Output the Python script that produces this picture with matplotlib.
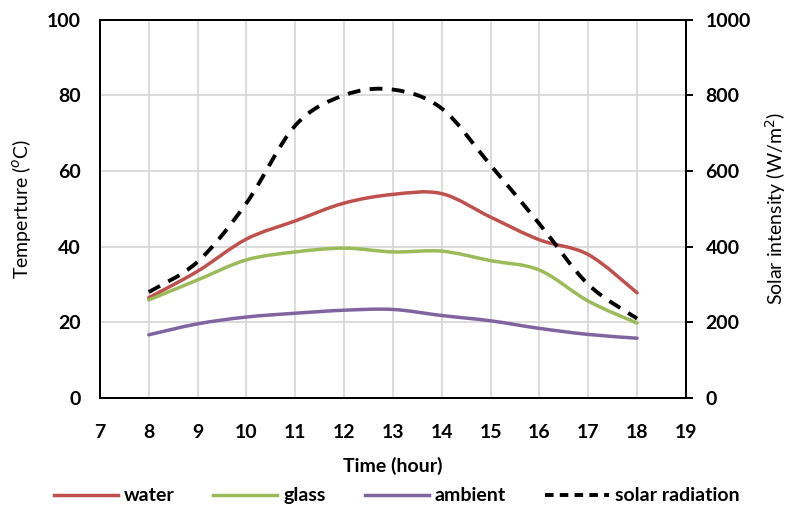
import numpy as np
import matplotlib.pyplot as plt
from matplotlib.path import Path
from matplotlib.patches import PathPatch
from matplotlib.lines import Line2D

hours = [8, 9, 10, 11, 12, 13, 14, 15, 16, 17, 18]
water = [26.5, 33.5, 42.0, 46.8, 51.5, 53.8, 54.0, 47.8, 41.8, 37.9, 27.8]
glass = [25.9, 31.2, 36.5, 38.6, 39.6, 38.6, 38.8, 36.3, 33.8, 25.6, 19.8]
ambient = [16.7, 19.6, 21.4, 22.4, 23.2, 23.4, 21.8, 20.4, 18.4, 16.8, 15.8]
solar = [280, 360, 515, 720, 800, 815, 765, 615, 460, 300, 210]

plt.rcParams['font.family'] = ['Lato', 'DejaVu Sans']
FS = 14


def smooth_path(x, y, tension=1 / 6):
    # Excel-style smoothed line: cubic Bezier through every point
    x = np.asarray(x, float)
    y = np.asarray(y, float)
    n = len(x)
    verts = [(x[0], y[0])]
    codes = [Path.MOVETO]
    for i in range(n - 1):
        x0, y0 = (x[i - 1], y[i - 1]) if i > 0 else (x[i], y[i])
        x3, y3 = (x[i + 2], y[i + 2]) if i + 2 < n else (x[i + 1], y[i + 1])
        c1 = (x[i] + (x[i + 1] - x0) * tension, y[i] + (y[i + 1] - y0) * tension)
        c2 = (x[i + 1] - (x3 - x[i]) * tension, y[i + 1] - (y3 - y[i]) * tension)
        verts += [c1, c2, (x[i + 1], y[i + 1])]
        codes += [Path.CURVE4] * 3
    return Path(verts, codes)


fig = plt.figure(figsize=(7.93, 5.08), dpi=100)
ax = fig.add_axes([0.126, 0.2165, 0.739, 0.745])
ax2 = ax.twinx()

lw = 2.5
series = [(water, '#C0504D', 'water'), (glass, '#9BBB59', 'glass'),
          (ambient, '#8064A2', 'ambient')]
handles = []
for ys, col, lab in series:
    ax.add_patch(PathPatch(smooth_path(hours, ys), fill=False, edgecolor=col, lw=lw,
                           capstyle='round'))
    handles.append(Line2D([], [], color=col, lw=lw, label=lab))
ax2.add_patch(PathPatch(smooth_path(hours, solar), fill=False, edgecolor='black', lw=2.8,
                        linestyle=(0, (3.3, 2.4))))
handles.append(Line2D([], [], color='black', lw=2.8, linestyle=(0, (2.2, 1.6)),
                      label='solar radiation'))

ax.set_xlim(7, 19)
ax.set_ylim(0, 100)
ax2.set_ylim(0, 1000)
ax.set_xticks(range(7, 20))
ax.set_yticks(range(0, 101, 20))
ax2.set_yticks(range(0, 1001, 200))

ax.grid(True, color='#d9d9d9', lw=1.3)
ax.set_axisbelow(True)
for sp in ax.spines.values():
    sp.set_linewidth(1.4)
for sp in ax2.spines.values():
    sp.set_linewidth(1.4)

ax.tick_params(axis='both', length=0, labelsize=FS)
ax.tick_params(axis='x', pad=19)
ax.tick_params(axis='y', pad=14)
ax2.tick_params(axis='y', length=5, width=1.4, direction='out', pad=9, labelsize=FS)
for lbl in ax.get_xticklabels() + ax.get_yticklabels() + ax2.get_yticklabels():
    lbl.set_fontweight('bold')

ax.set_xlabel('Time (hour)', fontsize=FS, fontweight='bold', labelpad=11)
ax.set_ylabel('Temperture ($^{o}$C)', fontsize=14, labelpad=10)
ax2.set_ylabel('Solar intensity (W/m$^{2}$)', fontsize=14, labelpad=9)

fig.legend(handles=handles, loc='center', bbox_to_anchor=(0.5, 0.024), ncol=4,
           frameon=False, prop=dict(size=FS, weight='bold'), handlelength=3.3,
           handletextpad=0.3, columnspacing=2.0, borderpad=0)

fig.savefig('out.png', dpi=100)
